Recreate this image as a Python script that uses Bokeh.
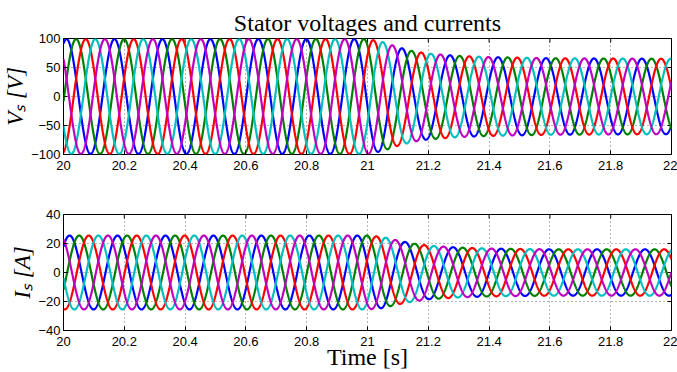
import numpy as np
from math import pi
from bokeh.plotting import figure
from bokeh.layouts import column
from bokeh.models import Range1d, FixedTicker
from bokeh.embed import file_html
from bokeh.resources import INLINE

# ---------------- data ----------------
title_text = "Stator voltages and currents"
x_label = "Time [s]"
v_label = "V\u209b [V]"
i_label = "I\u209b [A]"
x_ticks = [20, 20.2, 20.4, 20.6, 20.8, 21, 21.2, 21.4, 21.6, 21.8, 22]
v_ticks = [-100, -50, 0, 50, 100]
v_tick_labels = ["\u2212100", "\u221250", "0", "50", "100"]
i_ticks = [-40, -20, 0, 20, 40]
i_tick_labels = ["\u221240", "\u221220", "0", "20", "40"]
phase_names = ["a", "b", "c", "d", "e"]
phase_colors = ["#0000ff", "#008000", "#ff0000", "#00bfbf", "#bf00bf"]
phase_shift_deg = [0, 72, 144, 216, 288]      # five-phase system, each lags the previous
freq_hz = 6.34                                  # electrical frequency
v_first_peak = 20.01                            # first peak of the blue voltage
i_first_peak = 20.02                            # first peak of the blue current
# amplitude envelopes (peak values read at several times)
v_env_t = [20.0, 21.0, 21.05, 21.1, 21.15, 21.2, 21.3, 21.4, 21.6, 22.0]
v_env_a = [99.0, 99.0, 94.0, 85.0, 78.0, 74.0, 70.0, 68.0, 66.0, 65.0]
i_env_t = [20.0, 21.0, 21.05, 21.1, 21.15, 21.2, 21.3, 21.4, 21.6, 22.0]
i_env_a = [25.5, 25.5, 24.5, 22.0, 20.0, 18.5, 17.2, 16.5, 16.0, 16.0]

t = np.linspace(20.0, 22.0, 4001)


def phase_wave(env_t, env_a, first_peak, shift_deg):
    amp = np.interp(t, env_t, env_a)
    return amp * np.cos(2 * pi * freq_hz * (t - first_peak) - np.deg2rad(shift_deg))


SERIF = "Liberation Serif"
SANS = "Liberation Sans"


def style_axis(ax, ticks):
    ax.ticker = FixedTicker(ticks=ticks)
    ax.axis_line_color = None
    ax.major_tick_in = 4
    ax.major_tick_out = 0
    ax.minor_tick_line_color = None
    ax.major_tick_line_color = "black"
    ax.major_label_text_font = SANS
    ax.major_label_text_color = "black"
    ax.major_label_text_font_size = "13px"
    ax.axis_label_text_font = SERIF
    ax.axis_label_text_font_size = "23px"
    ax.axis_label_text_color = "black"


def make_fig(ticks, tick_labels, yr, ylab, height, top, bottom):
    p = figure(width=677, height=height, x_range=Range1d(20, 22), y_range=Range1d(*yr),
               output_backend="svg", toolbar_location=None,
               min_border_left=62, min_border_right=6,
               min_border_top=top, min_border_bottom=bottom)
    p.background_fill_color = "white"
    p.border_fill_color = "white"
    p.outline_line_color = "black"
    p.outline_line_width = 1
    style_axis(p.xaxis[0], x_ticks)
    p.xaxis[0].major_label_standoff = 6
    style_axis(p.yaxis[0], ticks)
    p.yaxis[0].major_label_standoff = 3
    p.yaxis[0].major_label_overrides = {tk: lb for tk, lb in zip(ticks, tick_labels)}
    p.yaxis[0].axis_label = ylab
    p.yaxis[0].axis_label_text_font_style = "italic"
    p.yaxis[0].axis_label_standoff = 0
    p.xgrid.ticker = FixedTicker(ticks=x_ticks)
    p.ygrid.ticker = FixedTicker(ticks=ticks)
    for g in (p.xgrid[0], p.ygrid[0]):
        g.grid_line_color = "#333333"
        g.grid_line_alpha = 0.7
        g.grid_line_dash = "1 3"
        g.grid_line_width = 1
    # inward tick marks on the top and right edges of the box (half of each dash is clipped)
    p.scatter(x=x_ticks, y=[yr[1]] * len(x_ticks), marker="dash", size=8, angle=pi / 2,
              line_color="black", line_width=1)
    p.scatter(x=[22] * len(ticks), y=ticks, marker="dash", size=8,
              line_color="black", line_width=1)
    return p


# ---------------- voltage plot ----------------
p1 = make_fig(v_ticks, v_tick_labels, (-100, 100), v_label, 184, 38, 30)
for name, col, sh in zip(phase_names, phase_colors, phase_shift_deg):
    p1.line(t, phase_wave(v_env_t, v_env_a, v_first_peak, sh), line_color=col, line_width=2.2)
p1.title.text = title_text
p1.title.text_font = SERIF
p1.title.text_font_size = "24px"
p1.title.text_font_style = "normal"
p1.title.text_color = "black"
p1.title.align = "center"
p1.title.standoff = 5

# ---------------- current plot ----------------
p2 = make_fig(i_ticks, i_tick_labels, (-40, 40), i_label, 188, 30, 42)
for name, col, sh in zip(phase_names, phase_colors, phase_shift_deg):
    p2.line(t, phase_wave(i_env_t, i_env_a, i_first_peak, sh), line_color=col, line_width=2.2)
p2.xaxis[0].axis_label = x_label
p2.xaxis[0].axis_label_text_font_style = "normal"
p2.xaxis[0].axis_label_text_font_size = "24px"
p2.xaxis[0].axis_label_standoff = -5

layout = column(p1, p2)
open("out.html", "w").write(file_html(layout, INLINE))
